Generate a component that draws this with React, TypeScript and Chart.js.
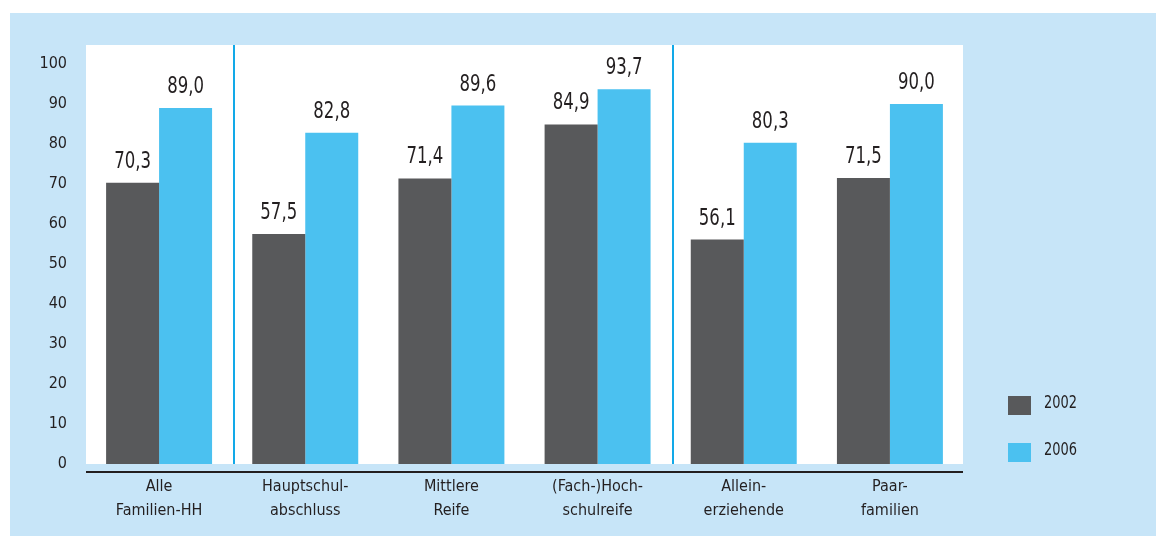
import React, { useEffect, useRef } from "react";
import { Chart, registerables } from "chart.js";

Chart.register(...registerables);

const categories: string[][] = [
  ["Alle", "Familien-HH"],
  ["Hauptschul-", "abschluss"],
  ["Mittlere", "Reife"],
  ["(Fach-)Hoch-", "schulreife"],
  ["Allein-", "erziehende"],
  ["Paar-", "familien"],
];
const values2002: number[] = [70.3, 57.5, 71.4, 84.9, 56.1, 71.5];
const values2006: number[] = [89.0, 82.8, 89.6, 93.7, 80.3, 90.0];
const seriesLabels: string[] = ["2002", "2006"];
const yTicks: number[] = [0, 10, 20, 30, 40, 50, 60, 70, 80, 90, 100];
// separators are drawn after these category indexes
const groupBreaks: number[] = [0, 3];

const FONT = "'Liberation Sans Narrow', 'DejaVu Sans Condensed', 'Arial Narrow', sans-serif";
const TEXT = "#231f20";
const DARK = "#58595b";
const BLUE = "#4bc1f0";

const chartDecor = {
  id: "chartDecor",
  beforeDraw(chart: any) {
    const { ctx, chartArea } = chart;
    ctx.save();
    ctx.fillStyle = "#ffffff";
    ctx.fillRect(chartArea.left, chartArea.top, chartArea.right - chartArea.left, chartArea.bottom - chartArea.top);
    ctx.restore();
  },
  afterDatasetsDraw(chart: any) {
    const { ctx, chartArea, scales } = chart;
    const x = scales.x;
    ctx.save();

    // blue separators between groups
    ctx.strokeStyle = "#12a9e8";
    ctx.lineWidth = 2;
    groupBreaks.forEach((i) => {
      const px = Math.round((x.getPixelForValue(i) + x.getPixelForValue(i + 1)) / 2) + 2;
      ctx.beginPath();
      ctx.moveTo(px, chartArea.top);
      ctx.lineTo(px, chartArea.bottom);
      ctx.stroke();
    });

    // base line below the plot
    ctx.strokeStyle = TEXT;
    ctx.lineWidth = 2;
    ctx.beginPath();
    ctx.moveTo(chartArea.left, chartArea.bottom + 8);
    ctx.lineTo(chartArea.right, chartArea.bottom + 8);
    ctx.stroke();

    // value labels (condensed)
    ctx.fillStyle = TEXT;
    ctx.font = `23px ${FONT}`;
    ctx.textAlign = "center";
    ctx.textBaseline = "middle";
    chart.data.datasets.forEach((ds: any, di: number) => {
      const meta = chart.getDatasetMeta(di);
      meta.data.forEach((bar: any, i: number) => {
        const txt = Number(ds.data[i]).toFixed(1).replace(".", ",");
        ctx.save();
        ctx.translate(bar.x, bar.y - 21);
        ctx.scale(0.8, 1);
        ctx.fillText(txt, 0, 0);
        ctx.restore();
      });
    });

    // legend
    ctx.font = `17px ${FONT}`;
    ctx.textAlign = "left";
    chart.data.datasets.forEach((ds: any, di: number) => {
      const top = chartArea.bottom - 68 + di * 47;
      ctx.fillStyle = ds.backgroundColor;
      ctx.fillRect(chartArea.right + 45, top, 23, 19);
      ctx.fillStyle = TEXT;
      ctx.save();
      ctx.translate(chartArea.right + 81, top + 8);
      ctx.scale(0.85, 1);
      ctx.fillText(ds.label, 0, 0);
      ctx.restore();
    });
    ctx.restore();
  },
};

const BarChart: React.FC = () => {
  const canvasRef = useRef<HTMLCanvasElement | null>(null);
  const chartInstance = useRef<Chart | null>(null);

  useEffect(() => {
    const ctx = canvasRef.current;
    if (!ctx) return;
    if (chartInstance.current) chartInstance.current.destroy();

    chartInstance.current = new Chart(ctx, {
      type: "bar",
      data: {
        labels: categories,
        datasets: [
          {
            label: seriesLabels[0],
            data: values2002,
            backgroundColor: DARK,
            categoryPercentage: 0.725,
            barPercentage: 1.0,
          },
          {
            label: seriesLabels[1],
            data: values2006,
            backgroundColor: BLUE,
            categoryPercentage: 0.725,
            barPercentage: 1.0,
          },
        ],
      },
      options: {
        animation: false,
        responsive: true,
        maintainAspectRatio: false,
        layout: { padding: { left: 0, top: 32, right: 193, bottom: 0 } },
        plugins: {
          legend: { display: false },
          tooltip: { enabled: false },
        },
        scales: {
          x: {
            grid: { display: false, drawTicks: false },
            border: { display: false },
            ticks: {
              color: TEXT,
              padding: 11,
              font: { family: FONT, size: 16, lineHeight: 1.5 },
              maxRotation: 0,
              autoSkip: false,
            },
            afterFit: (scale: any) => {
              scale.height = 72;
            },
          },
          y: {
            min: 0,
            max: 104.75,
            grid: { display: false, drawTicks: false },
            border: { display: false },
            ticks: {
              color: TEXT,
              padding: 19,
              font: { family: FONT, size: 16 },
            },
            afterBuildTicks: (scale: any) => {
              scale.ticks = yTicks.map((v) => ({ value: v }));
            },
            afterFit: (scale: any) => {
              scale.width = 76;
            },
          },
        },
      },
      plugins: [chartDecor],
    });

    return () => {
      if (chartInstance.current) {
        chartInstance.current.destroy();
        chartInstance.current = null;
      }
    };
  }, []);

  return (
    <div
      style={{
        position: "absolute",
        left: 10,
        top: 13,
        width: 1146,
        height: 523,
        background: "#c7e5f8",
      }}
    >
      <canvas ref={canvasRef}></canvas>
    </div>
  );
};

export default function App() {
  return <BarChart />;
}
